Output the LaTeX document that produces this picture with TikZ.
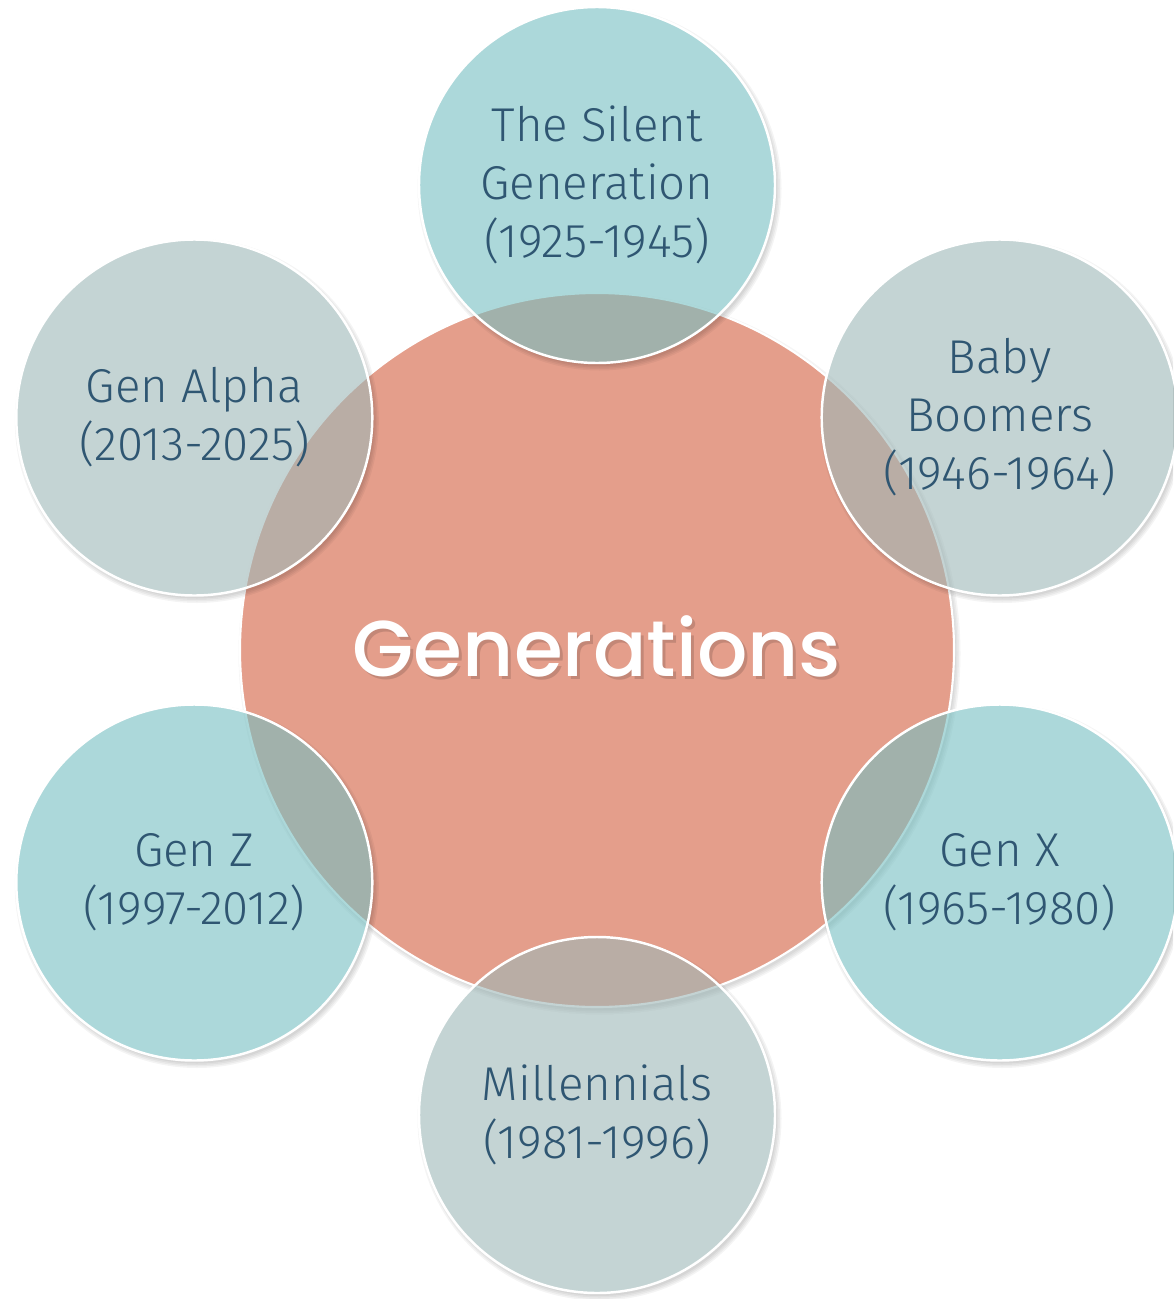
\documentclass[tikz,border=0pt]{standalone}
\usepackage{fontspec}
\setmainfont{Fira Sans Light}
\newfontfamily\titlefont{Poppins Medium}
\definecolor{salmon}{HTML}{E49E8B}
\definecolor{teal}{HTML}{75BEC1}
\definecolor{sage}{HTML}{9DB7B7}
\definecolor{ink}{HTML}{2F5672}
\begin{document}
\begin{tikzpicture}[
        hub/.style = {circle,draw=white,line width=1.2pt,fill=salmon,minimum size=14.28cm,inner sep=0pt},
        gen/.style = {circle,draw=white,line width=1.4pt,fill opacity=.6,minimum size=7.12cm,inner sep=0pt},
        genlabel/.style = {align=center,text=ink,font=\fontsize{27}{33}\selectfont},
        title/.style = {font=\titlefont\fontsize{45}{54}\selectfont}
    ]
    \useasboundingbox (0,0) rectangle (23.46,-25.98);
    \coordinate (c) at (11.94,-13);

    \begin{scope}[even odd rule]
        \clip (0,0) rectangle (23.46,-25.98) (c) circle (7.14);
        \foreach \k in {1,...,4}
            \fill[black,opacity=.04] ([shift={(.05,-.07)}]c) circle (7.1+.03*\k);
    \end{scope}
    \node[hub] (hub) at (c) {};

    \foreach \a/\col/\txt [count=\i] in {
            90/teal/{The Silent\\Generation\\(1925-1945)},
            30/sage/{Baby\\Boomers\\(1946-1964)},
            -30/teal/{Gen X\\(1965-1980)},
            -90/sage/{Millennials\\(1981-1996)},
            -150/teal/{Gen Z\\(1997-2012)},
            150/sage/{Gen Alpha\\(2013-2025)}} {
        \path (c) ++(\a:9.3) coordinate (p\i);
        \begin{scope}[even odd rule]
            \clip (0,0) rectangle (23.46,-25.98) (p\i) circle (3.56);
            \foreach \k in {1,...,4}
                \fill[black,opacity=.045] ([shift={(.05,-.07)}]p\i) circle (3.52+.03*\k);
        \end{scope}
        \node[gen,fill=\col] (g\i) at (p\i) {};
        \node[genlabel] (t\i) at (g\i.center) {\txt};
    }

    \node[title,text=black,text opacity=.14] (titleshadow) at ([shift={(.06,.02)}]hub.center) {Generations};
    \node[title,text=white] (titletext) at ([shift={(0,.08)}]hub.center) {Generations};
\end{tikzpicture}
\end{document}
